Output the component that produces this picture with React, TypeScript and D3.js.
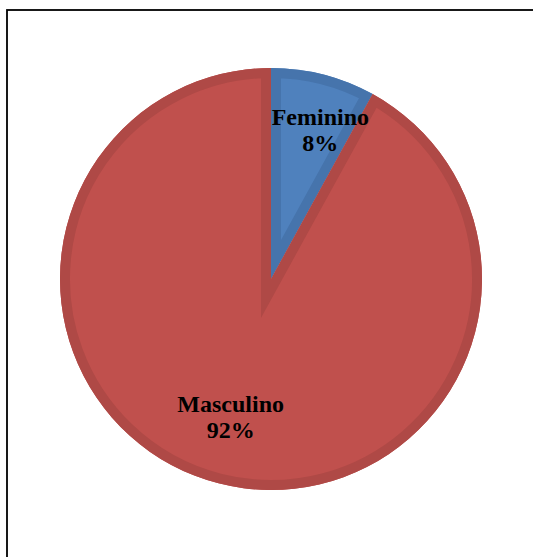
import React from "react";
import * as d3 from "d3";

const categories = ["Feminino", "Masculino"];
const values = [8, 92];
const percentLabels = ["8%", "92%"];
const fillColors = ["#4F81BD", "#C0504D"];
const bandColors = ["#4674AC", "#AF4946"];

const W = 533;
const H = 557;
const cx = 271;
const cy = 279;
const R = 211;
const band = 10;
const labelR = 150;
const labelShift = (3 * Math.PI) / 180;
const labelOffsetX = 4.5;
const labelOffsetY = -6.5;

export default function App() {
  const pie = d3
    .pie<number>()
    .sort(null)
    .value((d) => d);
  const arcs = pie(values);
  const arcGen = d3
    .arc<d3.PieArcDatum<number>>()
    .innerRadius(0)
    .outerRadius(R);

  return (
    <svg
      width={W}
      height={H}
      style={{ position: "absolute", left: 0, top: 0 }}
      xmlns="http://www.w3.org/2000/svg"
    >
      <rect x={0} y={0} width={W} height={H} fill="#fff" />
      <rect
        x={7}
        y={10}
        width={W + 20}
        height={H + 20}
        fill="none"
        stroke="#000"
        strokeWidth={1.8}
      />
      <defs>
        {arcs.map((a, i) => (
          <clipPath id={`clip${i}`} key={i}>
            <path d={arcGen(a) || ""} />
          </clipPath>
        ))}
      </defs>
      <g transform={`translate(${cx},${cy})`}>
        {arcs.map((a, i) => {
          const d = arcGen(a) || "";
          return (
            <g key={i}>
              <path d={d} fill={fillColors[i]} />
              <path
                d={d}
                fill="none"
                stroke={bandColors[i]}
                strokeWidth={band * 2}
                strokeLinejoin="miter"
                strokeMiterlimit={20}
                clipPath={`url(#clip${i})`}
              />
            </g>
          );
        })}
        {arcs.map((a, i) => {
          const mid = (a.startAngle + a.endAngle) / 2 + labelShift;
          const x = labelR * Math.sin(mid) + labelOffsetX;
          const y = -labelR * Math.cos(mid) + labelOffsetY;
          return (
            <text
              key={`t${i}`}
              x={x}
              y={y}
              textAnchor="middle"
              fontFamily="'Liberation Serif', 'Times New Roman', serif"
              fontWeight="bold"
              fontSize={24}
              fill="#000"
            >
              <tspan x={x} dy={-4}>
                {categories[i]}
              </tspan>
              <tspan x={x} dy={26}>
                {percentLabels[i]}
              </tspan>
            </text>
          );
        })}
      </g>
    </svg>
  );
}
